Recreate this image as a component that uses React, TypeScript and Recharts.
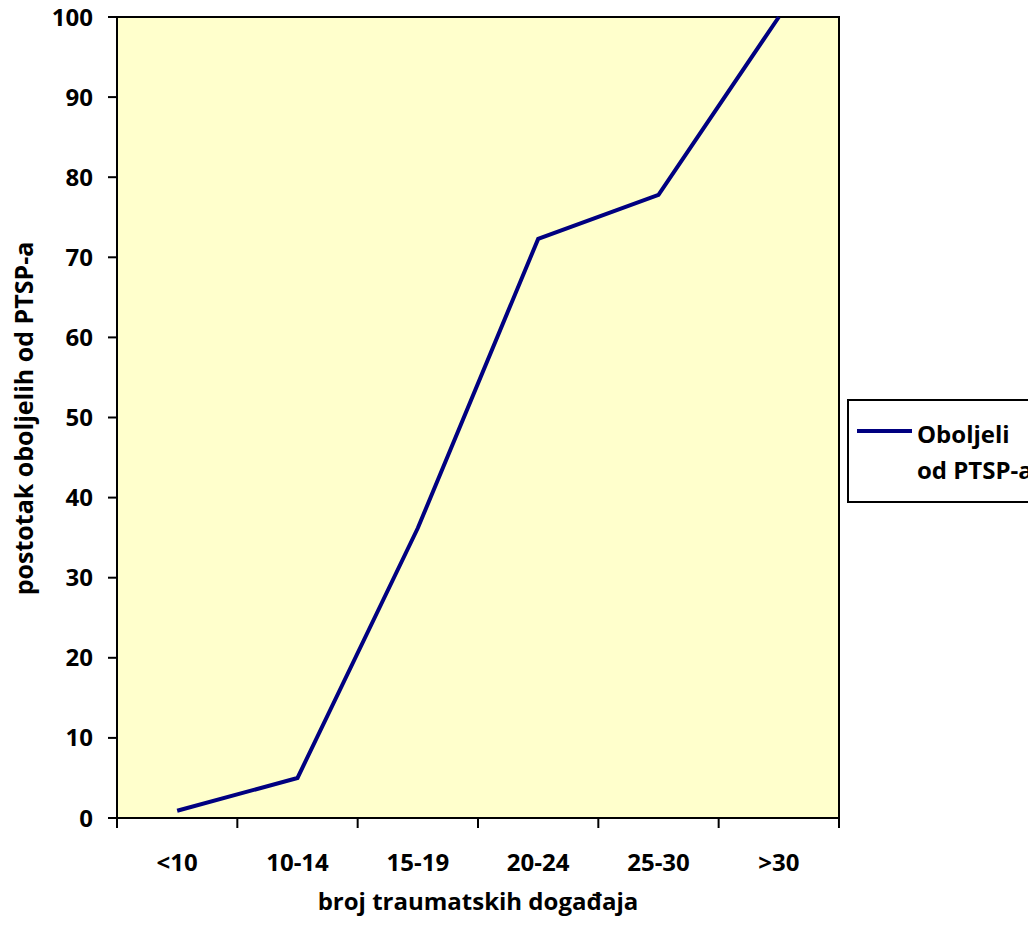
import React from 'react';
import {
  LineChart,
  Line,
  XAxis,
  YAxis,
  ReferenceArea,
  Legend,
  Label,
} from 'recharts';

// Number of traumatic events (category bands on the x axis)
const categories: string[] = ['<10', '10-14', '15-19', '20-24', '25-30', '>30'];

// Percentage of people affected by PTSD in each band
const affectedPct: number[] = [0.9, 5.0, 36.2, 72.3, 77.8, 100];

// Y axis tick values
const yTicks: number[] = [0, 10, 20, 30, 40, 50, 60, 70, 80, 90, 100];

const seriesName = 'Oboljeli od PTSP-a';
const xTitle = 'broj traumatskih događaja';
const yTitle = 'postotak oboljelih od PTSP-a';

const FONT = '"Open Sans", sans-serif';
const FONT_SIZE = 24;
const LINE_COLOR = '#000080';
const PLOT_BG = '#FFFFCC';

// Each category sits in the middle of its own band: band i spans [i, i+1]
const data = categories.map((cat, i) => ({
  cat,
  pos: i + 0.5,
  value: affectedPct[i],
}));

// Ticks on the x axis: band edges (tick marks) and band centres (labels)
const xTicks: number[] = [];
for (let i = 0; i <= categories.length * 2; i++) xTicks.push(i / 2);

const XTick = (props: any) => {
  const { x, y, payload } = props;
  const v = Number(payload.value);
  if (Number.isInteger(v)) {
    return <line x1={x} x2={x} y1={y} y2={y + 10} stroke="#000" strokeWidth={2} />;
  }
  const label = categories[Math.floor(v)];
  return (
    <text
      x={x}
      y={y + 53}
      textAnchor="middle"
      fill="#000"
      fontSize={FONT_SIZE}
      fontWeight={700}
      fontFamily={FONT}
    >
      {label}
    </text>
  );
};

const LegendBox = () => (
  <div
    style={{
      position: 'relative',
      boxSizing: 'border-box',
      width: 200,
      height: 104,
      border: '2px solid #000',
      background: '#fff',
    }}
  >
    <div
      style={{
        position: 'absolute',
        left: 8,
        top: 28,
        width: 55,
        height: 4,
        background: LINE_COLOR,
      }}
    />
    <div
      style={{
        position: 'absolute',
        left: 68,
        top: 15,
        fontFamily: FONT,
        fontWeight: 700,
        fontSize: FONT_SIZE,
        lineHeight: '36px',
        color: '#000',
        whiteSpace: 'nowrap',
      }}
    >
      <div>Oboljeli</div>
      <div>od PTSP-a</div>
    </div>
  </div>
);

export default function App() {
  return (
    <div style={{ margin: -8, width: 1036, height: 934, overflow: 'hidden', background: '#fff' }}>
      <LineChart
        width={1036}
        height={934}
        data={data}
        margin={{ top: 17, right: 197, bottom: 0, left: 0 }}
      >
        <ReferenceArea
          x1={0}
          x2={categories.length}
          y1={0}
          y2={100}
          fill={PLOT_BG}
          fillOpacity={1}
          stroke="#000"
          strokeWidth={2}
        />
        <XAxis
          type="number"
          dataKey="pos"
          domain={[0, categories.length]}
          ticks={xTicks}
          interval={0}
          allowDecimals
          height={116}
          tickSize={0}
          tickMargin={0}
          tickLine={false}
          axisLine={{ stroke: '#000', strokeWidth: 2 }}
          tick={<XTick />}
        >
          <Label
            content={(p: any) => {
              const vb = p.viewBox;
              return (
                <text
                  x={vb.x + vb.width / 2}
                  y={vb.y + 92}
                  textAnchor="middle"
                  fill="#000"
                  fontSize={FONT_SIZE}
                  fontWeight={700}
                  fontFamily={FONT}
                >
                  {xTitle}
                </text>
              );
            }}
          />
        </XAxis>
        <YAxis
          type="number"
          domain={[0, 100]}
          ticks={yTicks}
          interval={0}
          width={117}
          tickSize={9}
          tickMargin={15}
          tickLine={{ stroke: '#000', strokeWidth: 2 }}
          axisLine={{ stroke: '#000', strokeWidth: 2 }}
          tick={{ fill: '#000', fontSize: FONT_SIZE, fontWeight: 700, fontFamily: FONT }}
        >
          <Label
            content={(p: any) => {
              const vb = p.viewBox;
              const cx = vb.x + 33;
              const cy = vb.y + vb.height / 2 + 1;
              return (
                <text
                  x={cx}
                  y={cy}
                  transform={`rotate(-90, ${cx}, ${cy})`}
                  textAnchor="middle"
                  fill="#000"
                  fontSize={25}
                  fontWeight={700}
                  fontFamily={FONT}
                >
                  {yTitle}
                </text>
              );
            }}
          />
        </YAxis>
        <Legend
          layout="vertical"
          align="center"
          verticalAlign="middle"
          wrapperStyle={{ position: 'absolute', left: 847, top: 399, width: 200, height: 104 }}
          content={() => <LegendBox />}
        />
        <Line
          type="linear"
          dataKey="value"
          name={seriesName}
          stroke={LINE_COLOR}
          strokeWidth={4}
          dot={false}
          activeDot={false}
          isAnimationActive={false}
        />
      </LineChart>
    </div>
  );
}
